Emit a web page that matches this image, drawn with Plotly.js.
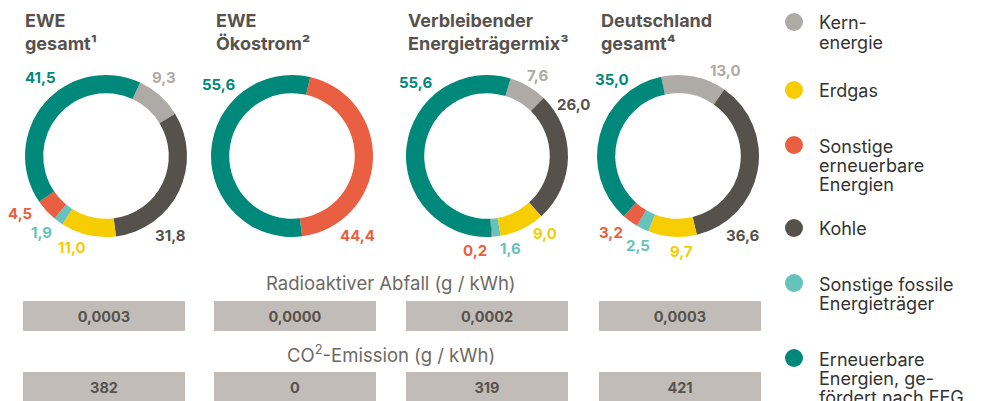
<!DOCTYPE html>
<html>
<head>
<meta charset="utf-8">
<script src="https://cdn.plot.ly/plotly-3.0.1.min.js"></script>
<style>html,body{margin:0;padding:0;background:#fff;}#chart{width:985px;height:401px;}</style>
</head>
<body>
<div id="chart"></div>
<script>
// ---------- DATA ----------
const categories = ['Kernenergie', 'Kohle', 'Erdgas', 'Sonstige fossile Energieträger', 'Sonstige erneuerbare Energien', 'Erneuerbare Energien, gefördert nach EEG'];
const donutTitles = ['EWE<br>gesamt¹', 'EWE<br>Ökostrom²', 'Verbleibender<br>Energieträgermix³', 'Deutschland<br>gesamt⁴'];
const eweGesamt = [9.3, 31.8, 11.0, 1.9, 4.5, 41.5];
const eweOekostrom = [0, 0, 0, 0, 44.4, 55.6];
const restMix = [7.6, 26.0, 9.0, 1.6, 0.2, 55.6];
const deutschland = [13.0, 36.6, 9.7, 2.5, 3.2, 35.0];
const radioaktiverAbfall = [0.0003, 0.0000, 0.0002, 0.0003];
const co2Emission = [382, 0, 319, 421];
const sectionTitles = ['Radioaktiver Abfall (g / kWh)', 'CO<sup>2</sup>-Emission (g / kWh)'];
const legendOrder = [0, 2, 4, 1, 3, 5];
const legendLines = [['Kern-', 'energie'], ['Kohle'], ['Erdgas'], ['Sonstige fossile', 'Energieträger'], ['Sonstige', 'erneuerbare', 'Energien'], ['Erneuerbare', 'Energien, ge-', 'fördert nach EEG']];

// ---------- STYLE / LAYOUT ----------
const W = 985, H = 401;
const colors = ['#aeaaa6', '#56514b', '#f6cd00', '#66c2bd', '#ea5e42', '#00897b'];
const titleColor = '#57524d';
const FONT = 'Inter, "Open Sans", sans-serif';
const series = [eweGesamt, eweOekostrom, restMix, deutschland];
const centersX = [106, 292, 487, 678];
const centerY = 156, R = 81;
const rotations = [25, 13, 17, -12];
const titleX = [23, 214, 406, 599];
const labelOffsets = [
  [[58, -79], [64, 79], [-34, 91], [-65, 76], [-86, 58], [-66, -79]],
  [null, null, null, null, [65, 79], [-74, -72]],
  [[50, -80], [86, -52], [58, 78], [24, 93], [-12, 94], [-72, -74]],
  [[47, -85], [65, 79], [3, 95], [-40, 89], [-67, 76], [-66, -77]]
];
const legendY = [22, 90, 145, 228, 283, 358];
const boxCentersX = [104, 295, 487, 680];
const boxW = 162, boxH = 30;

const px = x => x / W;
const py = y => 1 - y / H;
const fmt = (v, d) => v.toFixed(d).replace('.', ',');

const traces = series.map((vals, i) => ({
  type: 'pie',
  labels: categories,
  values: vals,
  sort: false,
  direction: 'clockwise',
  rotation: rotations[i],
  hole: 0.775,
  marker: {colors: colors, line: {width: 0}},
  textinfo: 'none',
  hoverinfo: 'label+value',
  showlegend: false,
  domain: {
    x: [px(centersX[i] - R), px(centersX[i] + R)],
    y: [py(centerY + R), py(centerY - R)]
  }
}));

const annotations = [];
const shapes = [];

// donut titles
donutTitles.forEach((t, i) => {
  annotations.push({
    xref: 'paper', yref: 'paper', x: px(titleX[i]), y: py(32),
    xanchor: 'left', yanchor: 'middle', align: 'left', showarrow: false,
    text: '<b>' + t + '</b>',
    font: {family: FONT, size: 18, color: titleColor}
  });
});

// value labels
series.forEach((vals, i) => {
  vals.forEach((v, k) => {
    const off = labelOffsets[i][k];
    if (!off || v === 0) return;
    annotations.push({
      xref: 'paper', yref: 'paper',
      x: px(centersX[i] + off[0]), y: py(centerY + off[1]),
      xanchor: 'center', yanchor: 'middle', showarrow: false,
      text: '<b>' + fmt(v, 1) + '</b>',
      font: {family: FONT, size: 15, color: colors[k]}
    });
  });
});

// section titles
[283, 353].forEach((y, j) => {
  annotations.push({
    xref: 'paper', yref: 'paper', x: px(391), y: py(y),
    xanchor: 'center', yanchor: 'middle', showarrow: false,
    text: sectionTitles[j],
    font: {family: FONT, size: 18.5, color: '#6e6964'}
  });
});

// boxes
[[radioaktiverAbfall, 316, 4], [co2Emission, 387, 0]].forEach(([arr, y, d]) => {
  arr.forEach((v, i) => {
    annotations.push({
      xref: 'paper', yref: 'paper', x: px(boxCentersX[i]), y: py(y),
      xanchor: 'center', yanchor: 'middle', showarrow: false,
      width: boxW, height: boxH, borderpad: 0, borderwidth: 0,
      bgcolor: '#c1bcb8', valign: 'middle', align: 'center',
      text: '<b>' + fmt(v, d) + '</b>',
      font: {family: FONT, size: 14.5, color: titleColor}
    });
  });
});

// legend
legendOrder.forEach((k, j) => {
  const y = legendY[j];
  shapes.push({
    type: 'circle', xref: 'paper', yref: 'paper',
    x0: px(785), x1: px(803), y0: py(y + 9), y1: py(y - 9),
    fillcolor: colors[k], line: {width: 0}
  });
  legendLines[k].forEach((line, l) => {
    annotations.push({
      xref: 'paper', yref: 'paper', x: px(817), y: py(y + 1 + l * 19),
      xanchor: 'left', yanchor: 'middle', showarrow: false,
      text: line,
      font: {family: FONT, size: 18, color: '#333333'}
    });
  });
});

const layout = {
  width: W, height: H,
  margin: {l: 0, r: 0, t: 0, b: 0},
  paper_bgcolor: '#ffffff',
  plot_bgcolor: '#ffffff',
  showlegend: false,
  annotations: annotations,
  shapes: shapes
};

Plotly.newPlot('chart', traces, layout, {displayModeBar: false, staticPlot: true});
</script>
</body>
</html>
